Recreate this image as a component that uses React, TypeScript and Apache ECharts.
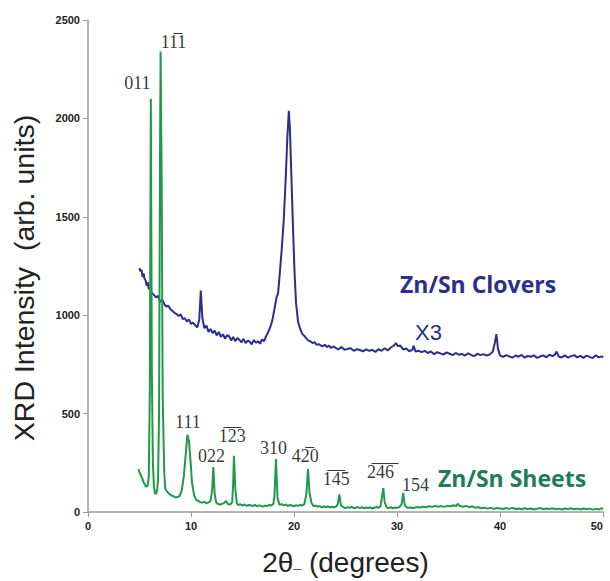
import React, { useEffect, useRef } from "react";
import * as echarts from "echarts";

// 2θ positions / intensities — Zn/Sn Sheets (green)
const sheetsX = [
  4.9, 5.0, 5.1, 5.2, 5.3, 5.4, 5.5, 5.6, 5.7, 5.8, 5.9, 6.0, 6.1, 6.2, 6.3, 6.4, 6.5, 6.6, 6.7, 6.8,
  6.9, 7.0, 7.05, 7.15, 7.25, 7.4, 7.5, 7.7, 7.9, 8.1, 8.3, 8.5, 8.7, 8.9, 9.1, 9.3, 9.5, 9.65, 9.8, 9.95,
  10.1, 10.3, 10.5, 10.7, 10.9, 11.1, 11.3, 11.5, 11.7, 11.9, 12.05, 12.17, 12.3, 12.45, 12.6, 12.8, 13.0, 13.2, 13.4, 13.6,
  13.8, 14.0, 14.1, 14.17, 14.3, 14.45, 14.6, 14.8, 15.0, 15.2, 15.4, 15.6, 15.8, 16.0, 16.2, 16.4, 16.6, 16.8, 17.0, 17.2,
  17.4, 17.6, 17.8, 18.0, 18.1, 18.25, 18.4, 18.6, 18.8, 19.0, 19.2, 19.4, 19.6, 19.8, 20.0, 20.2, 20.4, 20.6, 20.8, 21.0,
  21.2, 21.36, 21.5, 21.7, 21.9, 22.1, 22.3, 22.5, 22.7, 22.9, 23.1, 23.3, 23.5, 23.7, 23.9, 24.1, 24.25, 24.4, 24.55, 24.8,
  25.0, 25.2, 25.4, 25.6, 25.8, 26.0, 26.2, 26.4, 26.6, 26.8, 27.0, 27.2, 27.4, 27.6, 27.8, 28.0, 28.2, 28.4, 28.55, 28.67,
  28.8, 29.0, 29.2, 29.4, 29.6, 29.8, 30.0, 30.2, 30.45, 30.6, 30.75, 31.0, 31.3, 31.6, 31.9, 32.2, 32.5, 32.8, 33.1, 33.4,
  33.7, 34.0, 34.3, 34.6, 34.9, 35.2, 35.5, 35.75, 35.9, 36.1, 36.4, 36.7, 37.0, 37.3, 37.6, 37.9, 38.2, 38.5, 38.8, 39.1,
  39.4, 39.7, 40.0, 40.3, 40.6, 40.9, 41.2, 41.5, 41.8, 42.1, 42.4, 42.7, 43.0, 43.3, 43.6, 43.9, 44.2, 44.5, 44.8, 45.1,
  45.4, 45.7, 46.0, 46.3, 46.6, 46.9, 47.2, 47.5, 47.8, 48.1, 48.4, 48.7, 49.0, 49.3, 49.6, 49.9, 50.0,
];
const sheetsY = [
  218, 200, 192, 176, 168, 150, 142, 131, 128, 136, 180, 600, 2100, 700, 250, 130, 95, 92, 110, 160,
  500, 1900, 2340, 1700, 600, 200, 118, 102, 92, 84, 80, 74, 76, 82, 110, 180, 300, 392, 362, 262,
  150, 86, 62, 56, 50, 48, 52, 44, 49, 56, 110, 228, 90, 46, 42, 37, 41, 45, 56, 40,
  38, 50, 150, 286, 120, 42, 36, 39, 33, 38, 31, 36, 34, 30, 36, 29, 34, 31, 27, 33,
  30, 36, 33, 42, 80, 269, 70, 36, 40, 34, 38, 31, 36, 33, 29, 35, 31, 36, 33, 40,
  90, 218, 100, 46, 30, 32, 27, 30, 24, 28, 25, 29, 23, 27, 24, 28, 40, 89, 35, 24,
  20, 25, 21, 26, 19, 22, 25, 20, 24, 19, 23, 20, 24, 18, 22, 25, 22, 30, 80, 122,
  50, 23, 20, 24, 19, 23, 21, 24, 40, 97, 35, 21, 23, 20, 25, 23, 27, 24, 29, 26,
  31, 27, 30, 26, 31, 29, 34, 30, 42, 30, 27, 31, 25, 28, 22, 24, 19, 22, 17, 21,
  16, 20, 18, 15, 20, 16, 21, 15, 18, 14, 19, 15, 18, 13, 17, 20, 14, 18, 15, 19,
  14, 17, 13, 18, 15, 19, 14, 17, 13, 18, 14, 17, 12, 16, 13, 20, 14,
];

// Zn/Sn Clovers (blue, plotted ×3)
const cloversX = [
  5.0, 5.1, 5.2, 5.3, 5.4, 5.5, 5.6, 5.7, 5.8, 5.9, 6.0, 6.2, 6.4, 6.6, 6.8, 7.0, 7.2, 7.4, 7.6, 7.8,
  8.0, 8.2, 8.4, 8.6, 8.8, 9.0, 9.2, 9.4, 9.6, 9.8, 10.0, 10.2, 10.4, 10.6, 10.8, 10.95, 11.1, 11.3, 11.5, 11.7,
  11.9, 12.1, 12.3, 12.5, 12.7, 12.9, 13.1, 13.3, 13.5, 13.7, 13.9, 14.1, 14.3, 14.5, 14.7, 14.9, 15.1, 15.3, 15.5, 15.7,
  15.9, 16.1, 16.3, 16.5, 16.7, 16.9, 17.1, 17.3, 17.5, 17.7, 17.9, 18.1, 18.3, 18.45, 18.6, 18.8, 19.0, 19.2, 19.35, 19.5,
  19.6, 19.75, 19.9, 20.05, 20.2, 20.4, 20.6, 20.8, 21.0, 21.2, 21.4, 21.6, 21.8, 22.0, 22.2, 22.4, 22.6, 22.8, 23.0, 23.2,
  23.4, 23.6, 23.8, 24.0, 24.3, 24.6, 24.9, 25.2, 25.5, 25.8, 26.1, 26.4, 26.7, 27.0, 27.3, 27.6, 27.9, 28.2, 28.5, 28.8,
  29.1, 29.4, 29.7, 29.9, 30.1, 30.3, 30.6, 30.9, 31.2, 31.5, 31.6, 31.8, 32.1, 32.4, 32.7, 33.0, 33.3, 33.6, 33.9, 34.2,
  34.5, 34.8, 35.1, 35.4, 35.7, 36.0, 36.3, 36.6, 36.9, 37.2, 37.5, 37.8, 38.1, 38.4, 38.7, 39.0, 39.3, 39.5, 39.65, 39.8,
  40.0, 40.3, 40.6, 40.9, 41.2, 41.5, 41.8, 42.1, 42.4, 42.7, 43.0, 43.3, 43.6, 43.9, 44.2, 44.5, 44.8, 45.1, 45.35, 45.5,
  45.7, 46.0, 46.3, 46.6, 46.9, 47.2, 47.5, 47.8, 48.1, 48.4, 48.7, 49.0, 49.3, 49.6, 49.9, 50.0,
];
const cloversY = [
  1240, 1222, 1231, 1194, 1212, 1183, 1176, 1150, 1168, 1131, 1144, 1113, 1104, 1090, 1099, 1066, 1079, 1058, 1044, 1048,
  1030, 1021, 1012, 1006, 996, 1004, 980, 985, 968, 979, 956, 962, 950, 938, 976, 1125, 988, 934, 947, 915,
  930, 909, 921, 897, 915, 890, 903, 881, 898, 893, 872, 889, 868, 884, 875, 862, 880, 858, 871, 866,
  852, 874, 860, 868, 855, 877, 868, 895, 915, 940, 975, 1030, 1090, 1110, 1200, 1330, 1480, 1700, 1900, 2038,
  1950, 1700, 1450, 1220, 1060, 965, 930, 905, 895, 882, 871, 868, 858, 863, 849, 853, 846, 842, 850, 838,
  845, 833, 841, 836, 826, 838, 824, 829, 832, 819, 827, 823, 816, 826, 819, 824, 813, 827, 819, 832,
  821, 836, 846, 858, 842, 847, 826, 831, 817, 824, 845, 816, 819, 812, 819, 808, 816, 802, 812, 806,
  800, 811, 804, 797, 808, 799, 803, 795, 806, 798, 792, 804, 797, 802, 795, 800, 815, 860, 904, 830,
  796, 788, 797, 791, 784, 795, 789, 798, 784, 793, 789, 796, 783, 790, 796, 786, 799, 792, 801, 815,
  790, 785, 796, 784, 792, 797, 786, 793, 783, 795, 788, 782, 796, 786, 791, 785,
];

const yTicks = [0, 500, 1000, 1500, 2000, 2500];
const xTicks = [0, 10, 20, 30, 40, 50];

// Miller-index annotations: label, 2θ, intensity anchor
const peakLabels = ["011", "11\u03051", "111", "022", "1\u03052\u03053", "310", "42\u03050", "1\u03054\u03055", "2\u03054\u03056\u0305", "154"];
const peakLabelX = [4.8, 8.3, 9.7, 12.0, 14.0, 18.0, 21.1, 24.1, 28.4, 31.8];
const peakLabelY = [2180, 2390, 455, 285, 385, 325, 285, 170, 205, 135];

const seriesNames = ["Zn/Sn Clovers", "Zn/Sn Sheets"];
const BLUE = "#2d2d8e";
const GREEN = "#22994a";

export default function App() {
  const ref = useRef<HTMLDivElement>(null);
  useEffect(() => {
    if (!ref.current) return;
    const chart = echarts.init(ref.current, null, { renderer: "svg" });
    const sheets = sheetsX.map((x, i) => [x, sheetsY[i]]);
    const clovers = cloversX.map((x, i) => [x, cloversY[i]]);
    const labelData = peakLabels.map((t, i) => ({ value: [peakLabelX[i], peakLabelY[i]], name: t }));
    const axisLabelStyle = {
      color: "#222",
      fontFamily: "Liberation Sans",
      fontSize: 11,
      fontWeight: "bold",
      margin: 8,
      formatter: (v: number) => String(v),
    };
    chart.setOption({
      animation: false,
      backgroundColor: "#ffffff",
      grid: { left: 88, right: 7, top: 20, bottom: 65 },
      xAxis: {
        type: "value",
        min: xTicks[0],
        max: xTicks[xTicks.length - 1],
        interval: 10,
        axisLine: { lineStyle: { color: "#9a9a9a", width: 1.5 } },
        axisTick: { show: true, inside: false, length: 5, lineStyle: { color: "#9a9a9a" } },
        axisLabel: { ...axisLabelStyle, alignMaxLabel: "right" },
        splitLine: { show: false },
        name: "2θ{s|_} (degrees)",
        nameLocation: "middle",
        nameGap: 36,
        nameTextStyle: {
          fontFamily: "Liberation Sans",
          fontSize: 28,
          color: "#222",
          rich: { s: { fontSize: 14, color: "#555", fontFamily: "Liberation Sans" } },
        },
      },
      yAxis: {
        type: "value",
        min: yTicks[0],
        max: yTicks[yTicks.length - 1],
        interval: 500,
        axisLine: { show: true, lineStyle: { color: "#9a9a9a", width: 1.5 } },
        axisTick: { show: true, inside: false, length: 5, lineStyle: { color: "#9a9a9a" } },
        axisLabel: axisLabelStyle,
        splitLine: { show: false },
        name: "XRD Intensity  (arb. units)",
        nameLocation: "middle",
        nameGap: 50,
        nameTextStyle: { fontFamily: "Liberation Sans", fontSize: 28.5, color: "#222", padding: [0, 24, 0, 0] },
      },
      series: [
        {
          name: seriesNames[0],
          type: "line",
          data: clovers,
          showSymbol: false,
          symbol: "none",
          lineStyle: { color: BLUE, width: 2 },
          z: 2,
        },
        {
          name: seriesNames[1],
          type: "line",
          data: sheets,
          showSymbol: false,
          symbol: "none",
          lineStyle: { color: GREEN, width: 2 },
          z: 3,
        },
        {
          name: "labels",
          type: "scatter",
          data: labelData,
          symbol: "circle",
          symbolSize: 2,
          itemStyle: { color: "rgba(0,0,0,0)" },
          label: {
            show: true,
            position: "inside",
            formatter: (p: any) => p.name,
            fontFamily: "Liberation Serif, DejaVu Serif",
            fontSize: 18,
            color: "#000",
          },
          z: 4,
        },
      ],
      graphic: [
        {
          type: "text",
          left: 400,
          top: 272,
          style: { text: seriesNames[0], fontFamily: "Open Sans", fontWeight: "bold", fontSize: 23, fill: BLUE },
        },
        {
          type: "text",
          left: 415,
          top: 321,
          style: { text: "X3", fontFamily: "Liberation Sans", fontSize: 22, fill: BLUE },
        },
        {
          type: "text",
          left: 438,
          top: 466,
          style: { text: seriesNames[1], fontFamily: "Open Sans", fontWeight: "bold", fontSize: 23, fill: "#1b7d5a" },
        },
      ],
    });
    return () => chart.dispose();
  }, []);
  return <div ref={ref} style={{ width: 610, height: 581, position: "fixed", left: 0, top: 0 }} />;
}
